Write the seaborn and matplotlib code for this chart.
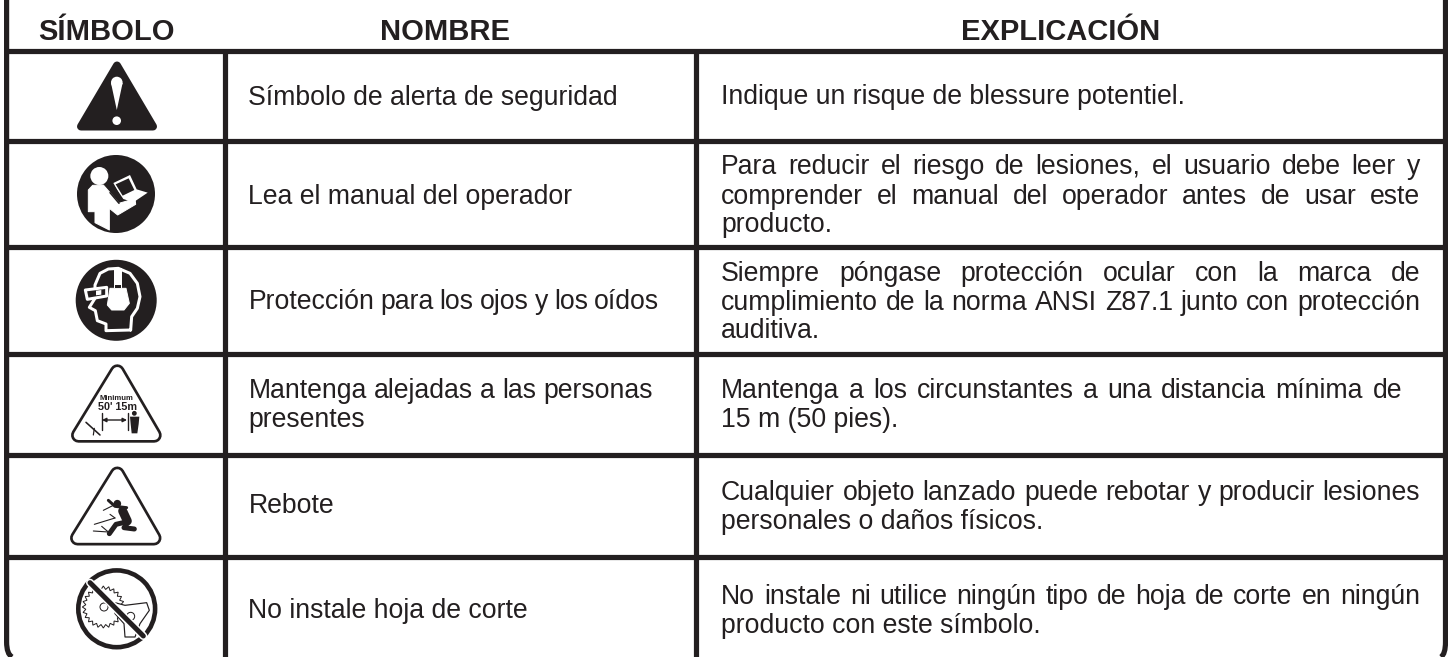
import matplotlib
matplotlib.use("Agg")
import matplotlib.pyplot as plt
import numpy as np
import seaborn as sns
from matplotlib.patches import Polygon, Circle, PathPatch
from matplotlib.path import Path

encabezados = ["SÍMBOLO", "NOMBRE", "EXPLICACIÓN"]
nombres = [
    ["Símbolo de alerta de seguridad"],
    ["Lea el manual del operador"],
    ["Protección para los ojos y los oídos"],
    ["Mantenga alejadas a las personas", "presentes"],
    ["Rebote"],
    ["No instale hoja de corte"],
]
explicaciones = [
    ["Indique un risque de blessure potentiel."],
    ["Para reducir el riesgo de lesiones, el usuario debe leer y",
     "comprender el manual del operador antes de usar este",
     "producto."],
    ["Siempre póngase protección ocular con la marca de",
     "cumplimiento de la norma ANSI Z87.1 junto con protección",
     "auditiva."],
    ["Mantenga a los circunstantes a una distancia mínima de",
     "15 m (50 pies)."],
    ["Cualquier objeto lanzado puede rebotar y producir lesiones",
     "personales o daños físicos."],
    ["No instale ni utilice ningún tipo de hoja de corte en ningún",
     "producto con este símbolo."],
]

INK = "#231f20"
sns.set_theme(style="white", rc={"axes.facecolor": "white", "figure.facecolor": "white"})
plt.rcParams["font.family"] = ["Liberation Sans", "DejaVu Sans"]

W, H = 1448, 657
fig = plt.figure(figsize=(W / 100, H / 100), dpi=100)
ax = fig.add_axes([0, 0, 1, 1])
ax.set_xlim(0, W)
ax.set_ylim(H, 0)
ax.axis("off")
PX = 0.72  # points per pixel


def rule(x, y, w=5.2):
    sns.lineplot(x=x, y=y, ax=ax, color=INK, linewidth=w * PX, estimator=None, sort=False,
                 solid_capstyle="butt", legend=False, zorder=3)


for y in [50.5, 140.5, 247, 353.5, 454.5, 556.5]:
    rule([6, 1446], [y, y])
rule([224.5, 224.5], [53, H])
rule([696, 696], [53, H])
# outer frame with rounded bottom corners
ax.add_patch(PathPatch(Path([(6.6, 0), (6.6, 642), (6.6, 654), (12, 657)],
                            [Path.MOVETO, Path.LINETO, Path.CURVE3, Path.CURVE3]),
                       fc="none", ec=INK, lw=5.2 * PX, capstyle="butt", zorder=3))
ax.add_patch(PathPatch(Path([(1445.5, 0), (1445.5, 642), (1445.5, 654), (1441, 657)],
                            [Path.MOVETO, Path.LINETO, Path.CURVE3, Path.CURVE3]),
                       fc="none", ec=INK, lw=5.2 * PX, capstyle="butt", zorder=3))

renderer = fig.canvas.get_renderer()
BODY = 19.15


def width(s, **kw):
    t = ax.text(0, 0, s, fontsize=BODY, **kw)
    w = t.get_window_extent(renderer).width
    t.remove()
    return w


def line(s, x0, y, x1=None):
    if x1 is None:
        ax.text(x0, y, s, fontsize=BODY, color=INK, va="baseline", ha="left")
        return
    words = s.split(" ")
    ws = [width(w) for w in words]
    gap = (x1 - x0 - sum(ws)) / max(len(words) - 1, 1)
    x = x0
    for w, wd in zip(words, ws):
        ax.text(x, y, w, fontsize=BODY, color=INK, va="baseline", ha="left")
        x += wd + gap


# headers
for s, cx in zip(encabezados, [106.5, 445, 1061]):
    ax.text(cx, 40, s, fontsize=21, fontweight="bold", color=INK, ha="center", va="baseline")

# second column
name_base = [[105], [204], [309], [398, 427], [513], [618]]
name_end = [[None], [None], [659], [653, None], [None], [None]]
for rows, bs, es in zip(nombres, name_base, name_end):
    for s, b, e in zip(rows, bs, es):
        line(s, 248.5, b, e)

# third column
exp_base = [[104], [173.5, 203.5, 232.5], [281, 310, 338], [398, 427], [500, 529], [604, 633]]
exp_end = [[None], [1420, 1420, None], [1420, 1420, None], [1402, None], [1420, None], [1420, None]]
for rows, bs, es in zip(explicaciones, exp_base, exp_end):
    for s, b, e in zip(rows, bs, es):
        line(s, 721, b, e)


# ---- pictograms (pixel-space drawings) ----
def poly(pts, fc=INK, ec="none", lw=0, z=4, join="round"):
    p = Polygon(pts, closed=True, fc=fc, ec=ec, lw=lw * PX, zorder=z, joinstyle=join)
    ax.add_patch(p)


def circ(c, r, fc=INK, ec="none", lw=0, z=4):
    ax.add_patch(Circle(c, r, fc=fc, ec=ec, lw=lw * PX, zorder=z))


def z_map(ox, oy):
    return lambda pts: [(ox + a / 3, oy + b / 3) for a, b in pts]


def stroke(pts, c=INK, lw=1.5, z=5):
    xs, ys = zip(*pts)
    ax.plot(xs, ys, color=c, lw=lw * PX, zorder=z, solid_capstyle="round", solid_joinstyle="round")


# 1 alert triangle
poly([(117, 65.5), (81, 126.5), (153, 126.5)], ec=INK, lw=8)
circ((116.8, 82.5), 5.8, fc="white", z=5)
poly([(111, 83), (122.6, 83), (116.8, 110)], fc="white", z=5)
circ((116.7, 120.7), 4.3, fc="white", z=5)

# 2 reader
m = z_map(70, 150)
circ((116, 194), 39)
circ(m([(88, 78)])[0], 9, fc="white", z=5)
poly(m([(55, 120), (68, 106), (100, 105), (120, 128), (147, 160), (195, 146), (197, 163), (143, 195),
        (118, 175), (118, 240), (75, 218), (75, 185), (55, 185)]), fc="white", z=5, ec="white", lw=1)
poly(m([(128, 100), (180, 75), (200, 118), (233, 128), (190, 157), (160, 147)]), fc="white", z=5)
poly(m([(137, 103), (176, 85), (193, 120), (158, 137)]), z=6)
stroke(m([(128, 100), (155, 150)]), lw=1.5, z=6)
stroke(m([(120, 128), (147, 160)]), lw=1.5, z=6)

# 3 eye and ear protection
m = z_map(0, 220)
circ((116.2, 300.3), 40.5)
stroke(m([(392, 330), (318, 332), (318, 312), (292, 302), (286, 272), (268, 262), (285, 235), (285, 195),
          (300, 160), (325, 147), (355, 145), (390, 160), (412, 190), (420, 230), (412, 265), (395, 290), (392, 330)]),
       c="white", lw=3)
poly(m([(341, 145), (365, 145), (365, 205), (342, 205)]), fc="white", z=6)
poly(m([(345, 194), (362, 194), (362, 204), (345, 204)]), z=7)
poly(m([(330, 205), (378, 205), (388, 250), (372, 270), (335, 270), (322, 255)]), fc="white", z=6, ec="white", lw=1)
poly(m([(256, 210), (320, 202), (320, 228), (262, 238)]), z=6, ec="white", lw=3)
poly(m([(288, 212), (304, 210), (304, 224), (288, 226)]), fc="white", z=7)


# warning triangles
def warn(a, l, r):
    poly([a, l, r], ec=INK, lw=15, fc=INK, z=4)
    poly([a, l, r], ec="white", lw=9.6, fc="white", z=4.5)


# 4 keep bystanders away
warn((117.3, 371.8), (78.5, 435.2), (154.2, 435.2))
m = z_map(0, 220)
ax.text(116.7, 399.5, "Minimum", fontsize=5.6, fontweight="bold", color=INK, ha="center", va="baseline", zorder=5)
ax.text(117, 410.5, "50' 15m", fontsize=7.8, fontweight="bold", color=INK, ha="center", va="baseline", zorder=5)
stroke(m([(306, 578), (306, 630)]), lw=1.4)
stroke(m([(383, 578), (383, 630)]), lw=1.4)
ax.annotate("", xy=(127, 420), xytext=(102, 420), zorder=5,
            arrowprops=dict(arrowstyle="<|-|>", color=INK, lw=1, mutation_scale=6, shrinkA=0, shrinkB=0))
circ(m([(403, 580)])[0], 2.4, z=5)
poly(m([(390, 590), (418, 590), (416, 612), (412, 640), (395, 640), (392, 612)]), z=5)
stroke(m([(258, 607), (300, 645)]), lw=1.6)
stroke(m([(283, 625), (280, 645)]), lw=1.2)

# 5 ricochet
warn((117.3, 474), (77.5, 538), (154, 538))
m = z_map(0, 437)
circ(m([(352, 200)])[0], 3.8, z=5)
stroke(m([(368, 222), (382, 252)]), lw=9)
stroke(m([(378, 255), (348, 262), (328, 290)]), lw=5)
stroke(m([(382, 258), (372, 272), (403, 276)]), lw=5)
stroke(m([(380, 212), (345, 208), (325, 190)]), lw=3)
for seg in [[(283, 262), (345, 243)], [(280, 282), (325, 285)], [(310, 220), (340, 205)],
            [(345, 243), (330, 232)], [(325, 285), (305, 268)]]:
    stroke(m(seg), lw=1.1)

# 6 no blade
m = z_map(0, 437)
circ((116.7, 608.8), 38.4, fc="white", ec=INK, lw=4.6)
angs = np.deg2rad(np.arange(0, 360, 7.5))
tips = [(310 + (63 if i % 2 == 0 else 53) * np.cos(a), 510 + (63 if i % 2 == 0 else 53) * np.sin(a))
        for i, a in enumerate(angs)]
poly(m(tips), fc="white", ec=INK, lw=1, z=5, join="miter")
circ(m([(312, 510)])[0], 4, fc="white", ec=INK, lw=1, z=5)
poly(m([(345, 497), (375, 505), (440, 497), (448, 520), (420, 560), (405, 600), (375, 600), (372, 560), (345, 530)]),
     fc="white", ec=INK, lw=1.2, z=6)
circ(m([(392, 538)])[0], 4, fc="white", ec=INK, lw=1, z=7)
stroke(m([(270, 437), (430, 597)]), c="white", lw=8, z=8)
stroke(m([(270, 437), (430, 597)]), c=INK, lw=5, z=9)

fig.savefig("out.png", dpi=100)
